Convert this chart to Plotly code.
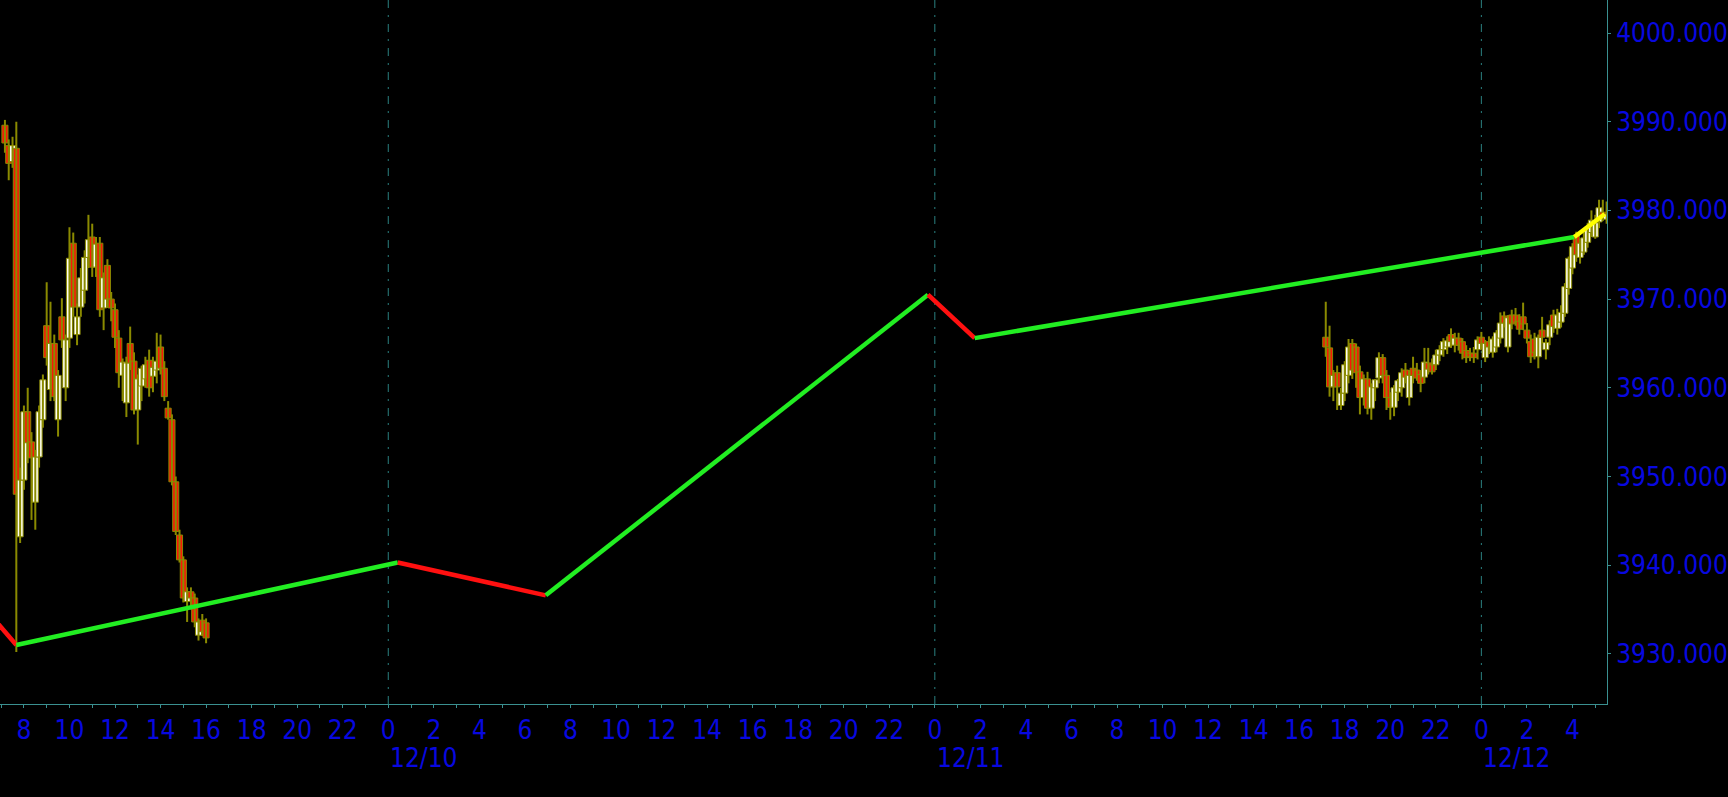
import pandas as pd
import plotly.graph_objects as go

# ---------------- data ----------------
# Friday 12/9 session, 10-minute bars (bar end times 07:10 .. 16:00)
fri_open = [3989.6, 3987.3, 3985.5, 3987.0, 3943.2, 3949.6, 3957.3, 3953.9, 3947.1, 3952.2,
            3956.4, 3967.0, 3959.8, 3965.0, 3956.4, 3968.0, 3960.0, 3965.6, 3976.3, 3966.0,
            3969.1, 3971.0, 3974.7, 3977.0, 3973.6, 3976.3, 3969.0, 3973.8, 3970.0, 3968.8,
            3965.6, 3961.4, 3958.3, 3965.0, 3963.0, 3957.5, 3960.2, 3961.0, 3963.1, 3961.3,
            3962.0, 3964.6, 3962.2, 3957.7, 3956.4, 3949.4, 3943.4, 3940.6, 3935.9, 3937.0,
            3936.3, 3932.1, 3933.8, 3933.5]
fri_high = [3990.2, 3988.0, 3988.3, 3990.0, 3951.0, 3958.0, 3960.0, 3955.0, 3953.0, 3958.0,
            3961.5, 3971.9, 3969.7, 3966.0, 3962.0, 3970.1, 3966.0, 3978.1, 3977.5, 3969.5,
            3973.5, 3975.5, 3979.5, 3978.5, 3977.0, 3977.0, 3973.0, 3974.5, 3970.8, 3969.5,
            3966.5, 3963.3, 3963.5, 3966.9, 3964.0, 3961.5, 3962.5, 3963.5, 3964.3, 3963.5,
            3966.2, 3966.0, 3963.0, 3958.5, 3957.0, 3950.0, 3944.0, 3941.0, 3937.5, 3937.5,
            3936.8, 3934.0, 3934.5, 3934.0]
fri_low = [3986.5, 3983.4, 3984.8, 3930.2, 3942.5, 3948.5, 3951.5, 3945.1, 3944.0, 3951.0,
           3955.5, 3962.5, 3958.5, 3958.5, 3954.5, 3964.5, 3958.5, 3964.5, 3968.0, 3964.8,
           3968.0, 3969.5, 3973.5, 3972.5, 3972.5, 3968.0, 3966.5, 3969.0, 3967.5, 3964.5,
           3960.0, 3958.5, 3956.7, 3962.0, 3957.0, 3953.6, 3958.5, 3960.0, 3959.0, 3959.5,
           3960.5, 3961.5, 3958.5, 3956.4, 3949.0, 3943.4, 3940.3, 3935.8, 3933.6, 3935.0,
           3933.0, 3931.5, 3932.0, 3931.2]
fri_close = [3987.6, 3985.3, 3987.3, 3948.0, 3949.6, 3957.3, 3953.8, 3952.1, 3952.2, 3957.3,
             3960.9, 3963.4, 3965.0, 3959.0, 3961.4, 3965.4, 3965.4, 3974.6, 3969.1, 3968.0,
             3972.4, 3974.7, 3976.7, 3973.6, 3976.2, 3968.8, 3972.4, 3970.0, 3969.0, 3965.7,
             3961.7, 3962.9, 3962.8, 3962.8, 3957.5, 3961.0, 3962.2, 3962.6, 3960.0, 3962.3,
             3963.0, 3962.2, 3959.0, 3956.6, 3949.4, 3943.8, 3940.6, 3936.3, 3937.0, 3936.3,
             3933.6, 3933.6, 3932.5, 3931.8]

# Sunday 12/11 evening -> Monday 12/12 session, 10-minute bars (17:10 .. 05:30)
mon_open = [3965.7, 3964.5, 3960.1, 3961.7, 3958.0, 3959.4, 3961.4, 3965.0, 3964.6, 3961.8,
            3958.9, 3961.0, 3957.7, 3960.0, 3961.1, 3963.4, 3961.4, 3958.9, 3957.8, 3959.5,
            3960.0, 3962.0, 3958.9, 3962.2, 3962.0, 3961.5, 3961.2, 3962.8, 3962.6, 3962.6,
            3963.7, 3964.3, 3964.6, 3966.0, 3964.8, 3965.6, 3965.2, 3964.2, 3963.9, 3963.9,
            3964.3, 3965.7, 3963.4, 3965.2, 3964.0, 3964.6, 3965.6, 3968.1, 3964.6, 3968.2,
            3968.2, 3967.5, 3968.0, 3966.5, 3965.2, 3965.5, 3963.5, 3966.5, 3964.3, 3965.7,
            3968.2, 3966.7, 3967.4, 3968.4, 3971.2, 3973.5, 3977.2, 3974.7, 3975.3, 3976.4,
            3977.5, 3977.0, 3978.7, 3979.8, 3979.0]
mon_high = [3969.7, 3967.0, 3962.0, 3962.5, 3960.0, 3963.0, 3965.5, 3965.5, 3965.0, 3962.5,
            3961.5, 3961.8, 3960.5, 3961.0, 3964.0, 3963.8, 3962.0, 3959.5, 3960.3, 3961.0,
            3962.2, 3962.8, 3962.0, 3963.5, 3962.8, 3962.0, 3964.5, 3964.5, 3963.3, 3964.3,
            3964.8, 3965.6, 3965.8, 3966.7, 3966.2, 3966.2, 3965.6, 3964.8, 3964.5, 3964.6,
            3965.8, 3966.3, 3965.4, 3965.8, 3965.8, 3966.5, 3968.5, 3968.6, 3968.2, 3968.8,
            3969.0, 3968.3, 3969.6, 3967.3, 3966.0, 3966.2, 3966.0, 3968.0, 3965.5, 3967.6,
            3968.8, 3968.9, 3969.3, 3971.8, 3974.8, 3976.3, 3977.6, 3976.8, 3977.5, 3978.6,
            3980.0, 3979.5, 3981.2, 3981.2, 3981.0]
mon_low = [3963.5, 3959.0, 3958.5, 3957.5, 3957.5, 3958.5, 3960.5, 3961.0, 3960.0, 3957.0,
           3958.0, 3957.0, 3956.4, 3958.5, 3960.5, 3960.5, 3957.5, 3956.4, 3956.8, 3958.5,
           3959.0, 3960.5, 3958.0, 3960.5, 3960.8, 3959.5, 3960.5, 3961.5, 3961.5, 3962.0,
           3963.0, 3963.5, 3963.8, 3964.5, 3964.0, 3964.2, 3963.2, 3962.8, 3963.0, 3962.8,
           3963.2, 3964.3, 3962.9, 3963.8, 3963.4, 3964.0, 3965.0, 3966.8, 3964.0, 3966.6,
           3967.0, 3966.0, 3966.5, 3965.0, 3962.8, 3963.2, 3962.2, 3965.0, 3963.2, 3964.8,
           3966.2, 3966.0, 3966.8, 3968.0, 3970.5, 3972.8, 3974.2, 3974.0, 3975.0, 3975.8,
           3977.0, 3976.8, 3978.0, 3978.8, 3978.5]
mon_close = [3964.6, 3960.1, 3961.4, 3960.1, 3959.4, 3962.6, 3964.6, 3962.0, 3961.7, 3958.9,
             3961.0, 3957.7, 3960.1, 3960.9, 3963.4, 3961.4, 3958.9, 3957.8, 3960.0, 3960.8,
             3961.7, 3961.2, 3961.4, 3961.4, 3961.1, 3960.5, 3962.9, 3962.1, 3961.8, 3963.7,
             3964.3, 3965.2, 3965.3, 3965.2, 3965.6, 3964.8, 3963.9, 3963.4, 3963.5, 3963.4,
             3965.4, 3965.0, 3965.0, 3964.6, 3965.5, 3966.2, 3967.3, 3967.3, 3967.9, 3967.2,
             3967.4, 3966.6, 3967.2, 3965.6, 3963.5, 3964.0, 3965.7, 3965.7, 3965.1, 3967.1,
             3966.9, 3968.2, 3968.5, 3971.4, 3974.6, 3975.9, 3975.0, 3976.3, 3976.9, 3978.1,
             3978.9, 3978.6, 3980.3, 3979.3, 3979.6]

fri_times = pd.date_range("2022-12-09 07:10", periods=len(fri_open), freq="10min")
mon_times = pd.date_range("2022-12-11 17:10", periods=len(mon_open), freq="10min")

# zig-zag indicator vertices
zz_time = ["2022-12-09 06:50", "2022-12-09 07:40", "2022-12-10 00:25", "2022-12-10 06:55",
           "2022-12-10 23:42", "2022-12-11 01:45", "2022-12-12 04:05", "2022-12-12 05:25"]
zz_value = [3933.5, 3931.0, 3940.3, 3936.6, 3970.5, 3965.6, 3977.0, 3979.6]
zz_color = ["#FF1010", "#22EE22", "#FF1010", "#22EE22", "#FF1010", "#22EE22", "#FFFF00"]

day_starts = ["2022-12-10 00:00", "2022-12-11 00:00", "2022-12-12 00:00"]
day_labels = ["12/10", "12/11", "12/12"]
y_ticks = [3930, 3940, 3950, 3960, 3970, 3980, 3990, 4000]
x_start, x_end = "2022-12-09 06:57", "2022-12-12 05:31"

# ---------------- styling ----------------
FONT = "DejaVu Sans Condensed, DejaVu Sans, sans-serif"
BLUE = "#0808E0"
AXIS = "#3A9090"
WICK = "#8A8A00"
UP_FILL = "#FFFFF2"
DOWN_FILL = "#F81808"
BODY_MS = 16 * 60 * 1000  # candle body width on the time axis

times_all = list(fri_times) + list(mon_times)
o_all = fri_open + mon_open
h_all = fri_high + mon_high
l_all = fri_low + mon_low
c_all = fri_close + mon_close

fig = go.Figure()

# wicks (high-low), drawn through the axes from the data arrays
wx, wy = [], []
for t, h, l in zip(times_all, h_all, l_all):
    wx += [t, t, None]
    wy += [l, h, None]
fig.add_trace(go.Scatter(x=wx, y=wy, mode="lines", line=dict(color=WICK, width=2),
                         hoverinfo="skip", showlegend=False))

# bodies
base = [min(o, c) for o, c in zip(o_all, c_all)]
size = [max(abs(c - o), 0.12) for o, c in zip(o_all, c_all)]
fills = [UP_FILL if c >= o else DOWN_FILL for o, c in zip(o_all, c_all)]
fig.add_trace(go.Bar(x=times_all, y=size, base=base, width=BODY_MS,
                     marker=dict(color=fills, line=dict(color=WICK, width=1)),
                     hoverinfo="skip", showlegend=False))

for i, c in enumerate(zz_color):
    fig.add_trace(go.Scatter(
        x=zz_time[i:i + 2], y=zz_value[i:i + 2], mode="lines",
        line=dict(color=c, width=4.5), hoverinfo="skip", showlegend=False,
    ))

for d, lab in zip(day_starts, day_labels):
    fig.add_shape(type="line", x0=d, x1=d, y0=0, y1=1, xref="x", yref="paper",
                  line=dict(color="#2A8080", width=1, dash="8px,7px,2px,7px"), layer="below")
    fig.add_annotation(x=d, y=-0.077, xref="x", yref="paper", text=lab, showarrow=False,
                       xanchor="left", yanchor="middle",
                       font=dict(family=FONT, size=26, color=BLUE))

# x ticks: every hour, labels on even hours
tick_vals, tick_text = [], []
for t in pd.date_range("2022-12-09 07:00", "2022-12-12 05:00", freq="1h"):
    tick_vals.append(t)
    tick_text.append("" if t.hour % 2 else str(t.hour))

fig.update_layout(
    width=1728, height=797,
    margin=dict(l=0, r=114, t=0, b=93),
    paper_bgcolor="black", plot_bgcolor="black",
    barmode="overlay",
    font=dict(family=FONT, size=26, color=BLUE),
    xaxis=dict(
        type="date", range=[x_start, x_end],
        tickmode="array", tickvals=tick_vals, ticktext=tick_text, tickangle=0,
        showgrid=False, zeroline=False, showline=True, linecolor=AXIS, linewidth=1,
        ticks="outside", ticklen=3, tickcolor=AXIS,
        tickfont=dict(family=FONT, size=26, color=BLUE),
    ),
    yaxis=dict(
        side="right", range=[3924.35, 4003.72],
        tickmode="array", tickvals=y_ticks, tickformat=".3f",
        showgrid=False, zeroline=False, showline=True, linecolor=AXIS, linewidth=1,
        ticks="outside", ticklen=3, tickcolor=AXIS,
        tickfont=dict(family=FONT, size=26, color=BLUE),
    ),
    showlegend=False,
)

fig.write_html("out.html", config={"displayModeBar": False},
               post_script="document.body.style.margin='0px';document.body.style.overflow='hidden';")
